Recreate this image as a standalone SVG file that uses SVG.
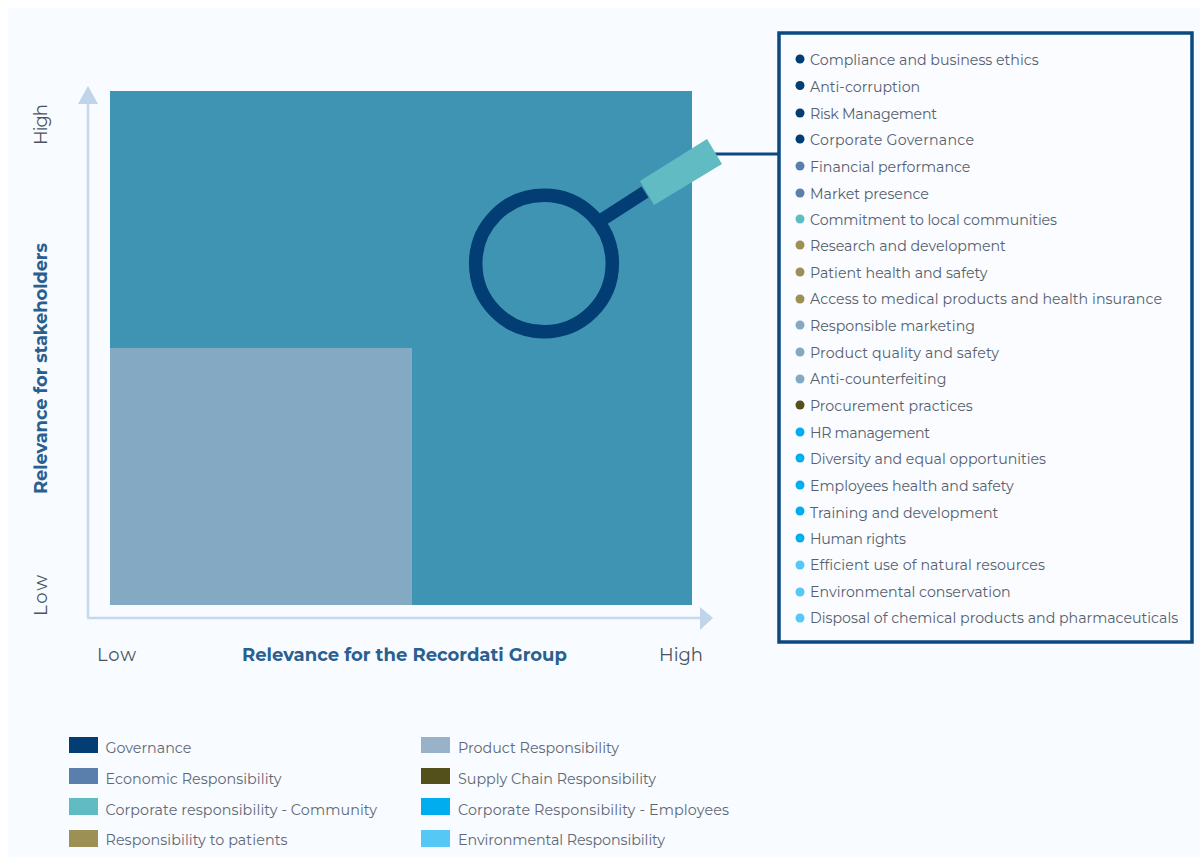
<svg xmlns="http://www.w3.org/2000/svg" width="1200" height="857" viewBox="0 0 1200 857">
<style>
text{font-family:"Montserrat","Open Sans","Liberation Sans",sans-serif}
.i{font-size:14.2px;fill:#56606e}
.l{font-size:14.3px;fill:#5f6874}
.a{font-size:18px;fill:#4a5560}
.t{font-size:18px;font-weight:700;fill:#2a5f8f}
.g{fill:#023e73}.e{fill:#5b7fac}.c{fill:#60bcc2}.p{fill:#9d9055}.r{fill:#84a9c2}.s{fill:#54501c}.h{fill:#00aeef}.n{fill:#55c8f5}
</style>
<rect width="1200" height="857" fill="#fff"/>
<rect x="8" y="8" width="1192" height="849" fill="#f8fbff"/>
<g id="matrix">
<rect x="110" y="91" width="582" height="514" fill="#3f94b3"/>
<rect x="110" y="348" width="302" height="257" fill="#84a9c2"/>
</g>
<g id="connectors">
<path d="M88 618V102" fill="none" stroke="#c6d8ec" stroke-width="2.500"/>
<path d="M88 86L98 104H78Z" fill="#c0d4ea"/>
<path d="M87 618H702" fill="none" stroke="#c6d8ec" stroke-width="2.500"/>
<path d="M713 618L700 607V630Z" fill="#c0d4ea"/>
<path d="M715 154H779" fill="none" stroke="#0b4a80" stroke-width="3"/>
</g>
<g id="lens">
<path d="M600 221L645 192" stroke="#023e73" stroke-width="13" fill="none"/>
<circle cx="544" cy="263.500" r="68.300" fill="none" stroke="#023e73" stroke-width="13.500"/>
<path d="M640 181L707 139L722 164L654 205Z" fill="#60bcc2"/>
</g>
<g id="labels">
<text class="t" transform="translate(47 494) rotate(-90)" textLength="251">Relevance for stakeholders</text>
<text class="a" transform="translate(47 145) rotate(-90)" textLength="41">High</text>
<text class="a" transform="translate(47 616) rotate(-90)" textLength="41">Low</text>
<text class="a" x="97" y="661" textLength="39">Low</text>
<text class="t" x="242" y="661">Relevance for the Recordati Group</text>
<text class="a" x="659" y="661">High</text>
</g>
<g id="list">
<rect x="779" y="33" width="413" height="609" fill="#fafcff" stroke="#0b4a80" stroke-width="3.500"/>
<g class="g"><circle cx="800" cy="59" r="4.500"/><circle cx="800" cy="85.500" r="4.500"/><circle cx="800" cy="113" r="4.500"/><circle cx="800" cy="139" r="4.500"/></g>
<g class="e"><circle cx="800" cy="166" r="4.500"/><circle cx="800" cy="193" r="4.500"/></g>
<circle class="c" cx="800" cy="219" r="4.500"/>
<g class="p"><circle cx="800" cy="245" r="4.500"/><circle cx="800" cy="272" r="4.500"/><circle cx="800" cy="299" r="4.500"/></g>
<g class="r"><circle cx="800" cy="325" r="4.500"/><circle cx="800" cy="352" r="4.500"/><circle cx="800" cy="379" r="4.500"/></g>
<circle class="s" cx="800" cy="405" r="4.500"/>
<g class="h"><circle cx="800" cy="432" r="4.500"/><circle cx="800" cy="458" r="4.500"/><circle cx="800" cy="485" r="4.500"/><circle cx="800" cy="511" r="4.500"/><circle cx="800" cy="538" r="4.500"/></g>
<g class="n"><circle cx="800" cy="565" r="4.500"/><circle cx="800" cy="592" r="4.500"/><circle cx="800" cy="618" r="4.500"/></g>
<text class="i" x="810" y="65">Compliance and business ethics</text>
<text class="i" x="810" y="92">Anti-corruption</text>
<text class="i" x="810" y="119" textLength="127">Risk Management</text>
<text class="i" x="810" y="145" textLength="164">Corporate Governance</text>
<text class="i" x="810" y="172">Financial performance</text>
<text class="i" x="810" y="199">Market presence</text>
<text class="i" x="810" y="225" textLength="247">Commitment to local communities</text>
<text class="i" x="810" y="251">Research and development</text>
<text class="i" x="810" y="278">Patient health and safety</text>
<text class="i" x="810" y="304" textLength="352">Access to medical products and health insurance</text>
<text class="i" x="810" y="331">Responsible marketing</text>
<text class="i" x="810" y="358" textLength="189">Product quality and safety</text>
<text class="i" x="810" y="384">Anti-counterfeiting</text>
<text class="i" x="810" y="411">Procurement practices</text>
<text class="i" x="810" y="438" textLength="120">HR management</text>
<text class="i" x="810" y="464">Diversity and equal opportunities</text>
<text class="i" x="810" y="491">Employees health and safety</text>
<text class="i" x="810" y="518">Training and development</text>
<text class="i" x="810" y="544" textLength="96">Human rights</text>
<text class="i" x="810" y="570" textLength="235">Efficient use of natural resources</text>
<text class="i" x="810" y="597">Environmental conservation</text>
<text class="i" x="810" y="623">Disposal of chemical products and pharmaceuticals</text>
</g>
<g id="legend">
<rect class="g" x="69" y="737" width="29" height="16"/><text class="l" x="105.500" y="753">Governance</text>
<rect class="e" x="69" y="768" width="29" height="16"/><text class="l" x="105.500" y="783.500" textLength="176">Economic Responsibility</text>
<rect class="c" x="69" y="798" width="29" height="17"/><text class="l" x="105.500" y="814.500" textLength="271.500">Corporate responsibility - Community</text>
<rect class="p" x="69" y="830" width="29" height="17"/><text class="l" x="105.500" y="845" textLength="182">Responsibility to patients</text>
<rect fill="#98b3c9" x="421" y="737" width="29" height="16"/><text class="l" x="458" y="753" textLength="161">Product Responsibility</text>
<rect class="s" x="421" y="768" width="29" height="16"/><text class="l" x="458" y="783.500" textLength="198">Supply Chain Responsibility</text>
<rect class="h" x="421" y="798" width="29" height="17"/><text class="l" x="458" y="814.500" textLength="271">Corporate Responsibility - Employees</text>
<rect class="n" x="421" y="830" width="29" height="17"/><text class="l" x="458" y="845" textLength="207">Environmental Responsibility</text>
</g>
</svg>
